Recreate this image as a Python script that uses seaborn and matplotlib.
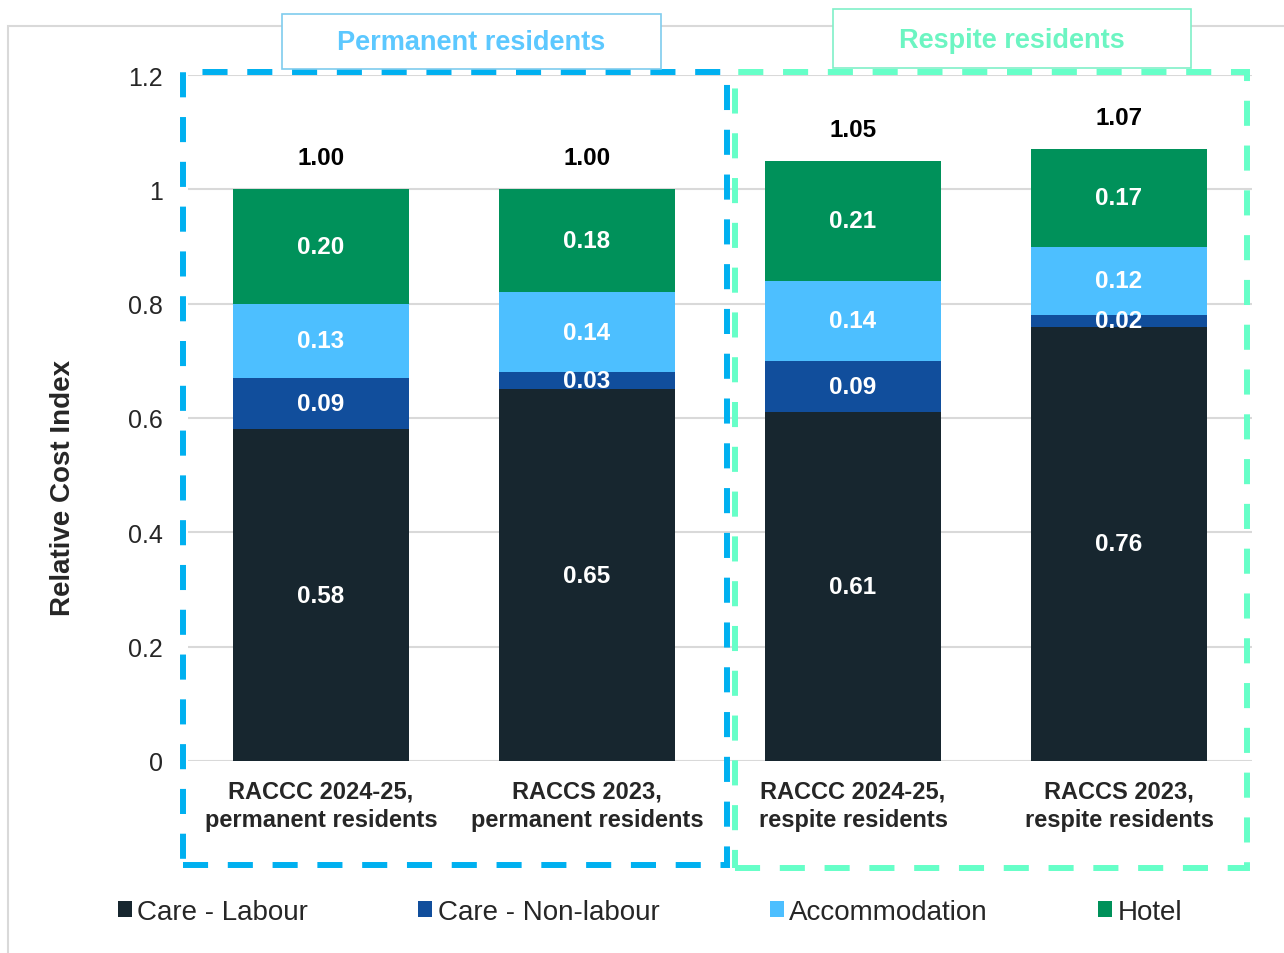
import numpy as np
import pandas as pd
import matplotlib.pyplot as plt
import seaborn as sns
from matplotlib.patches import Rectangle, Patch

# Data
categories = ['RACCC 2024-25,\npermanent residents', 'RACCS 2023,\npermanent residents',
              'RACCC 2024-25,\nrespite residents', 'RACCS 2023,\nrespite residents']
care_labour = [0.58, 0.65, 0.61, 0.76]
care_nonlabour = [0.09, 0.03, 0.09, 0.02]
accommodation = [0.13, 0.14, 0.14, 0.12]
hotel = [0.20, 0.18, 0.21, 0.17]
totals = [1.00, 1.00, 1.05, 1.07]

series_names = ['Care - Labour', 'Care - Non-labour', 'Accommodation', 'Hotel']
colors = ['#17262F', '#114E9C', '#4DBFFF', '#00915A']

df = pd.DataFrame({'category': categories,
                   'Care - Labour': care_labour,
                   'Care - Non-labour': care_nonlabour,
                   'Accommodation': accommodation,
                   'Hotel': hotel})

sns.set_style('white')
plt.rcParams['font.family'] = ['Liberation Sans', 'DejaVu Sans']

fig = plt.figure(figsize=(12.84, 9.54), dpi=100)
ax = fig.add_axes([0.1464, 0.2013, 0.8287, 0.719])

# stacked bars: draw cumulative heights from the top layer down
cum = df[series_names].cumsum(axis=1)
for name, col in reversed(list(zip(series_names, colors))):
    sns.barplot(x='category', y=cum[name], data=df, color=col,
                saturation=1, width=0.665, ax=ax, linewidth=0)

# segment labels
for i in range(len(categories)):
    bottom = 0
    for name in series_names:
        v = df[name][i]
        ax.text(i, bottom + v / 2, f'{v:.2f}', ha='center', va='center',
                color='white', fontsize=17.5, fontweight='bold')
        bottom += v
    ax.text(i, cum['Hotel'][i] + 0.055, f'{totals[i]:.2f}', ha='center', va='center',
            color='black', fontsize=17.5, fontweight='bold')

ax.set_xlim(-0.5, 3.5)
ax.set_ylim(0, 1.2)
ax.set_yticks([0, 0.2, 0.4, 0.6, 0.8, 1.0, 1.2])
ax.set_yticklabels(['0', '0.2', '0.4', '0.6', '0.8', '1', '1.2'])
ax.set_xticks(range(len(categories)))
ax.set_xticklabels(categories, fontsize=17, fontweight='bold', linespacing=1.35)
ax.tick_params(axis='y', length=0, pad=18, labelsize=18)
ax.tick_params(axis='x', length=0, pad=13)
ax.set_xlabel('')
ax.set_ylabel('')
for s in ax.spines.values():
    s.set_visible(False)
ax.yaxis.grid(True, color='#D9D9D9', lw=1.5)
ax.set_axisbelow(True)

fig.text(63 / 1284, 1 - 488 / 954, 'Relative Cost Index', rotation=90, ha='center',
         va='center', fontsize=20, fontweight='bold')

W, H = 1284, 954


def fig_rect(x0, y0, x1, y1, **kw):
    # pixel coords (top-left origin) to figure fraction
    return Rectangle((x0 / W, 1 - y1 / H), (x1 - x0) / W, (y1 - y0) / H,
                     transform=fig.transFigure, **kw)


# outer light frame
fig.patches.append(fig_rect(8, 27, 1300, 970, fill=False, ec='#D9D9D9', lw=1.5))

# dashed group boxes
fig.patches.append(fig_rect(183, 73, 727, 866, fill=False, ec='#00B0F0', lw=4.3,
                            ls=(0, (4.2, 3.3))))
fig.patches.append(fig_rect(735, 73, 1247, 869, fill=False, ec='#66FFC8', lw=4.3,
                            ls=(0, (4.2, 3.3))))

# group titles
fig.patches.append(fig_rect(282, 15, 661, 70, fc='white', ec='#7FCCEE', lw=1.2, zorder=5))
fig.text((282 + 661) / 2 / W, 1 - 43 / H, 'Permanent residents', ha='center', va='center',
         fontsize=19.5, fontweight='bold', color='#5CC8FF', zorder=6)
fig.patches.append(fig_rect(833, 10, 1191, 69, fc='white', ec='#80F0C8', lw=1.2, zorder=5))
fig.text((833 + 1191) / 2 / W, 1 - 41 / H, 'Respite residents', ha='center', va='center',
         fontsize=19.5, fontweight='bold', color='#6CF5C2', zorder=6)

# legend
handles = [Patch(facecolor=c, edgecolor='none') for c in colors]
fig.legend(handles, series_names, loc='center', ncol=4, mode='expand',
           bbox_to_anchor=(118 / W, 1 - 935 / H, (1182 - 118) / W, 44 / H),
           frameon=False, fontsize=20, handlelength=0.5, handleheight=0.5,
           handletextpad=0.2, borderaxespad=0, borderpad=0)

fig.savefig('out.png', dpi=100)
